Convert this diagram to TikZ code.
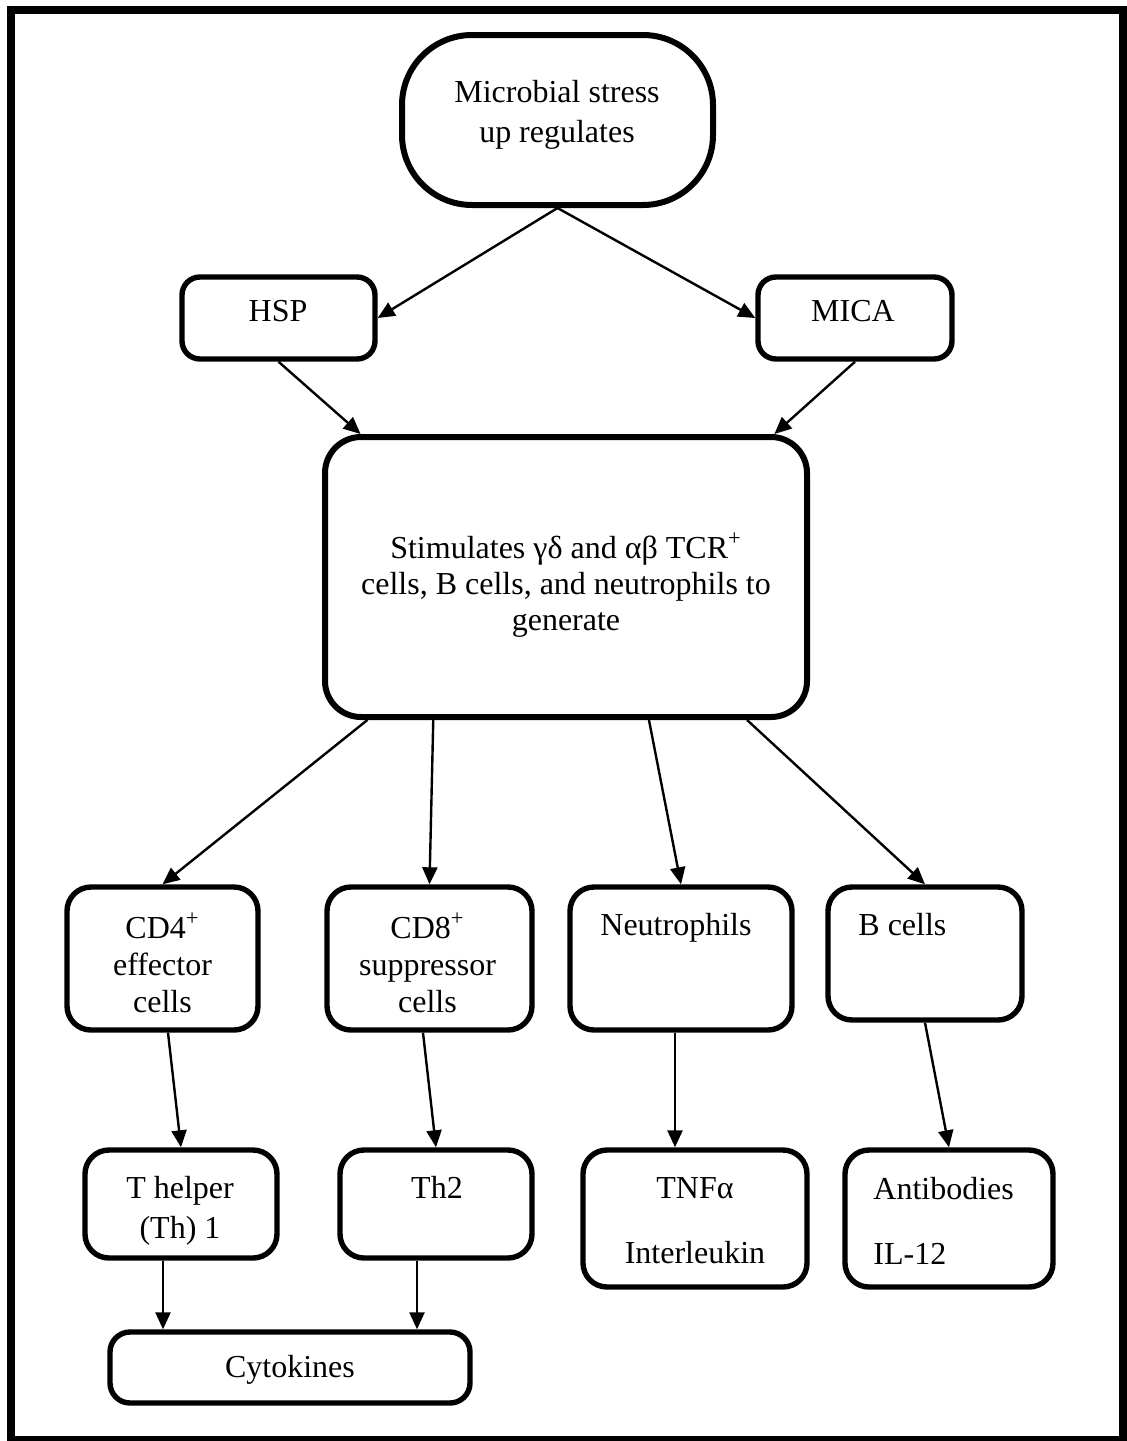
\documentclass[tikz,border=0pt]{standalone}
\usepackage{fontspec}
\setmainfont{Liberation Serif}
\usetikzlibrary{arrows.meta,calc,positioning}
\begin{document}
\begin{tikzpicture}[x=0.5pt,y=-0.5pt,>={Triangle[length=8.5pt,width=7.5pt]},
	box/.style={draw,line width=2.7pt,rounded corners=12pt,inner sep=0pt},
	txt/.style={font=\fontsize{16}{19}\selectfont,align=center,inner sep=0pt,anchor=north,execute at begin node=\strut},
	ltxt/.style={txt,align=left,anchor=north west},
	arr/.style={->,line width=1.2pt}]
	\useasboundingbox (0,0) rectangle (1126,1441);
	\draw[line width=4pt] (10.5,9.5) rectangle (1122.5,1439.5);
	% boxes
	\node[box,line width=3pt,rounded corners=35pt,minimum width=155.5pt,minimum height=85pt] (top) at (557.5,120) {};
	\node[box,rounded corners=9pt,minimum width=96.5pt,minimum height=41pt] (hsp) at (278.5,318) {};
	\node[box,rounded corners=9pt,minimum width=97pt,minimum height=41pt] (mica) at (855,318) {};
	\node[box,line width=3pt,rounded corners=18pt,minimum width=241pt,minimum height=140pt] (mid) at (566,577) {};
	\node[box,minimum width=95.5pt,minimum height=71.5pt] (cd4) at (162.5,958.5) {};
	\node[box,minimum width=102.5pt,minimum height=71.5pt] (cd8) at (429.5,958.5) {};
	\node[box,minimum width=111pt,minimum height=71.5pt] (neu) at (681,958.5) {};
	\node[box,minimum width=97pt,minimum height=66.5pt] (bc) at (925,953.5) {};
	\node[box,minimum width=96pt,minimum height=54pt] (th1) at (181,1204) {};
	\node[box,minimum width=96pt,minimum height=54pt] (th2) at (436,1204) {};
	\node[box,minimum width=112pt,minimum height=68.5pt] (tnf) at (695,1218.5) {};
	\node[box,minimum width=104pt,minimum height=68.5pt] (ab) at (949,1218.5) {};
	\node[box,rounded corners=10pt,minimum width=180pt,minimum height=35.5pt] (cyto) at (290,1367.5) {};
	% texts
	\node[txt,font=\fontsize{16}{20}\selectfont] (tTop) at (557,80) {Microbial stress\\up regulates};
	\node[txt] (tHsp) at (278,294.4) {HSP};
	\node[txt] (tMica) at (853,294.4) {MICA};
	\node[txt,font=\fontsize{16}{18}\selectfont] (tMid) at (566,532.5) {Stimulates γδ and αβ TCR\textsuperscript{+}\\cells, B cells, and neutrophils to\\generate};
	\node[txt,font=\fontsize{16}{18.5}\selectfont] (tCd4) at (162.5,912.5) {CD4\textsuperscript{+}\\effector\\cells};
	\node[txt,font=\fontsize{16}{18.5}\selectfont] (tCd8) at (427.5,912.5) {CD8\textsuperscript{+}\\suppressor\\cells};
	\node[ltxt] (tNeu) at (600,908.4) {Neutrophils};
	\node[ltxt] (tBc) at (858,908.4) {B cells};
	\node[txt,font=\fontsize{16}{20}\selectfont] (tTh1) at (180,1176) {T helper\\(Th) 1};
	\node[txt] (tTh2) at (437,1171.4) {Th2};
	\node[txt] (tTnf) at (695,1177) {TNFα\\[13.5pt]Interleukin};
	\node[ltxt] (tAb) at (873,1176.5) {Antibodies\\[13.5pt]IL-12};
	\node[txt] (tCyto) at (290,1350.4) {Cytokines};
	% arrows
	\draw[arr] (top.south) -- (hsp.east);
	\draw[arr] (top.south) -- (mica.west);
	\draw[arr] (hsp.south) -- ($(mid.north west)!0.079!(mid.north east)$);
	\draw[arr] (mica.south) -- ($(mid.north west)!0.927!(mid.north east)$);
	\draw[arr] ($(mid.south west)!0.093!(mid.south east)$) -- (cd4.north);
	\draw[arr] ($(mid.south west)!0.228!(mid.south east)$) -- (cd8.north);
	\draw[arr] ($(mid.south west)!0.67!(mid.south east)$) -- (neu.north);
	\draw[arr] ($(mid.south west)!0.871!(mid.south east)$) -- (bc.north);
	\draw[arr] ($(cd4.south)+(5.5,0)$) -- (th1.north);
	\draw[arr] ($(cd8.south)+(-6.5,0)$) -- (th2.north);
	\draw[arr] ($(neu.south)+(-6,0)$) -- ($(tnf.north)+(-20,0)$);
	\draw[arr] (bc.south) -- (ab.north);
	\draw[arr] ($(th1.south)+(-18,0)$) coordinate (c1) -- (c1 |- cyto.north);
	\draw[arr] ($(th2.south)+(-19,0)$) coordinate (c2) -- (c2 |- cyto.north);
\end{tikzpicture}
\end{document}
